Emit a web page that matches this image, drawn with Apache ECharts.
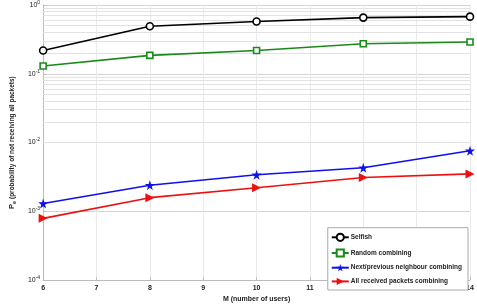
<!DOCTYPE html>
<html>
<head>
<meta charset="utf-8">
<script src="https://cdn.jsdelivr.net/npm/echarts@6/dist/echarts.min.js"></script>
<style>
  html, body { margin: 0; padding: 0; background: #fff; }
  #main { width: 477px; height: 308px; }
</style>
</head>
<body>
<div id="main"></div>
<script>
  // data
  var users = [6, 8, 10, 12, 14];
  var selfish = [0.218, 0.49, 0.576, 0.656, 0.677];
  var randomComb = [0.13, 0.185, 0.218, 0.273, 0.29];
  var neighbourComb = [0.0013, 0.0024, 0.0034, 0.0043, 0.0076];
  var allComb = [0.00079, 0.00158, 0.0022, 0.0031, 0.0035];
  var seriesNames = ['Selfish', 'Random combining', 'Next/previous neighbour combining', 'All received packets combining'];

  // minor log grid lines 2..9 per decade
  var minorGrid = [];
  for (var e = -4; e < 0; e++) {
    for (var m = 2; m <= 9; m++) minorGrid.push(m * Math.pow(10, e));
  }

  function pairs(arr) {
    return arr.map(function (v, i) { return [users[i], v]; });
  }

  var star = 'path://M50,0 L61,35 L98,35 L68,57 L79,91 L50,70 L21,91 L32,57 L2,35 L39,35 Z';
  var font = 'Liberation Sans';

  var myChart = echarts.init(document.getElementById('main'));
  myChart.setOption({
    animation: false,
    grid: { left: 25, right: 7, top: 5, bottom: 19 },
    legend: {
      orient: 'vertical',
      right: 9,
      bottom: 18,
      backgroundColor: '#fff',
      borderColor: '#aaa',
      borderWidth: 1,
      borderRadius: 0,
      padding: [5, 6, 5, 3],
      itemGap: 6.5,
      itemWidth: 17,
      itemHeight: 9,
      textStyle: { fontFamily: font, fontSize: 6.5, fontWeight: 'bold', color: '#222', padding: [0, 0, 0, -3] },
      data: seriesNames
    },
    xAxis: {
      type: 'value',
      min: 6, max: 14, interval: 1,
      name: 'M (number of users)',
      nameLocation: 'middle',
      nameGap: 12,
      nameTextStyle: { fontFamily: font, fontSize: 7, fontWeight: 'bold', color: '#222' },
      axisLine: { lineStyle: { color: '#bbb' } },
      axisTick: { inside: true, length: 3, lineStyle: { color: '#bbb' } },
      axisLabel: { fontFamily: font, fontSize: 7, fontWeight: 'bold', color: '#222', margin: 4 },
      splitLine: { show: true, lineStyle: { color: '#ebebeb', width: 1 } }
    },
    yAxis: {
      type: 'log',
      logBase: 10,
      min: 1e-4, max: 1,
      name: '{p|P}{s|e} (probability of not receiving all packets)',
      nameLocation: 'middle',
      nameGap: 19,
      nameTextStyle: {
        fontFamily: font, fontSize: 6.5, fontWeight: 'bold', color: '#222',
        rich: {
          p: { fontFamily: font, fontSize: 7.5, fontWeight: 'bold', color: '#222' },
          s: { fontFamily: font, fontSize: 5.5, fontWeight: 'bold', color: '#222', verticalAlign: 'bottom', padding: [4, 0, 0, 0] }
        }
      },
      axisLine: { show: true, lineStyle: { color: '#bbb' } },
      axisTick: { inside: true, length: 3, lineStyle: { color: '#bbb' } },
      axisLabel: {
        fontFamily: font, fontSize: 7, color: '#222', margin: 3,
        formatter: function (v) {
          var ex = Math.round(Math.log10(v));
          return '10{sup|' + ex + '}';
        },
        rich: { sup: { fontSize: 5, verticalAlign: 'top', padding: [0, 0, 5, 0], fontFamily: font, color: '#222' } }
      },
      splitLine: { show: true, lineStyle: { color: '#d4d4d4', width: 1 } }
    },
    series: [
      {
        name: seriesNames[0], type: 'line', data: pairs(selfish),
        symbol: 'circle', symbolSize: 7,
        lineStyle: { color: '#000', width: 1.6 },
        itemStyle: { color: '#fff', borderColor: '#000', borderWidth: 1.6 },
        markLine: {
          silent: true, symbol: 'none', label: { show: false },
          lineStyle: { color: '#e2e2e2', width: 1, type: 'solid' },
          data: minorGrid.map(function (v) { return { yAxis: v }; })
        },
        z: 5
      },
      {
        name: seriesNames[1], type: 'line', data: pairs(randomComb),
        symbol: 'rect', symbolSize: 6,
        lineStyle: { color: '#1a8a1a', width: 1.6 },
        itemStyle: { color: '#fff', borderColor: '#1a8a1a', borderWidth: 1.6 },
        z: 5
      },
      {
        name: seriesNames[2], type: 'line', data: pairs(neighbourComb),
        symbol: star, symbolSize: 10,
        lineStyle: { color: '#1010ee', width: 1.6 },
        itemStyle: { color: '#1010ee' },
        z: 5
      },
      {
        name: seriesNames[3], type: 'line', data: pairs(allComb),
        symbol: 'triangle', symbolSize: 9, symbolRotate: -90,
        lineStyle: { color: '#ee1010', width: 1.6 },
        itemStyle: { color: '#ee1010' },
        z: 5
      }
    ]
  });
</script>
</body>
</html>
